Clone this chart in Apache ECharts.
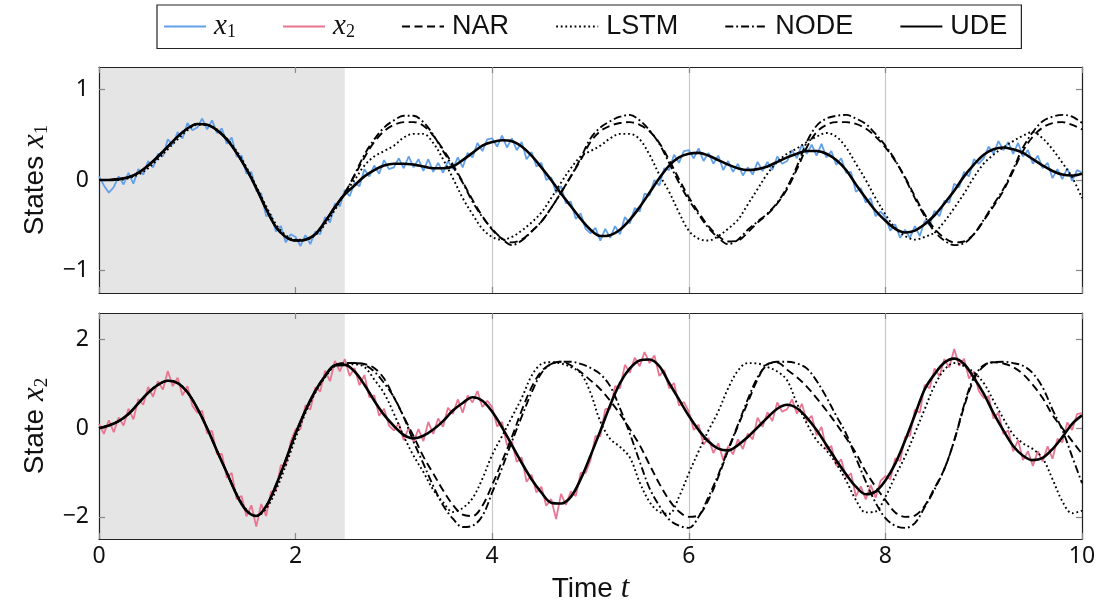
<!DOCTYPE html>
<html><head><meta charset="utf-8">
<script src="https://cdn.jsdelivr.net/npm/echarts/dist/echarts.min.js"></script>
<style>html,body{margin:0;padding:0;background:#fff}#c{width:1099px;height:610px}</style>
</head><body><div id="c"></div>
<script>
// ---------------- data ----------------
const xTickValues = [0, 2, 4, 6, 8, 10];
const y1TickValues = [-1, 0, 1];
const y2TickValues = [-2, 0, 2];
const trainingEnd = 2.5;
const legendNames = ['x1', 'x2', 'NAR', 'LSTM', 'NODE', 'UDE'];

// measurement time grid (step 0.05) and model time grid (step 0.1)
const tMeas = Array.from({length: 201}, (_, i) => +(i * 0.05).toFixed(2));
const tModel = Array.from({length: 101}, (_, i) => +(i * 0.1).toFixed(1));

// noisy measurements of x1 (t = 0 ... 10, step 0.05; one row per time unit)
const x1Meas = [
  0.04,-0.06,-0.14,-0.08,0.04,-0.05,0.08,-0.04,0.12,0.06,0.21,0.14,0.29,0.26,0.45,0.39,0.53,0.46,0.63,0.55,
  0.58,0.68,0.56,0.66,0.52,0.57,0.40,0.47,0.26,0.27,0.07,0.09,-0.12,-0.15,-0.40,-0.38,-0.57,-0.51,-0.69,-0.60,
  -0.63,-0.73,-0.61,-0.71,-0.57,-0.60,-0.41,-0.47,-0.26,-0.29,-0.11,-0.18,-0.03,-0.07,0.12,0.04,0.16,0.07,0.22,0.12,
  0.14,0.24,0.13,0.26,0.14,0.23,0.10,0.23,0.09,0.19,0.08,0.21,0.12,0.25,0.14,0.30,0.25,0.41,0.32,0.45,
  0.46,0.37,0.49,0.36,0.46,0.33,0.42,0.23,0.31,0.15,0.19,0.00,0.03,-0.14,-0.07,-0.26,-0.24,-0.43,-0.37,-0.54,
  -0.59,-0.53,-0.67,-0.54,-0.64,-0.51,-0.60,-0.41,-0.48,-0.31,-0.35,-0.15,-0.17,0.00,-0.06,0.13,0.11,0.28,0.19,0.32,
  0.33,0.24,0.35,0.21,0.30,0.18,0.27,0.11,0.21,0.09,0.18,0.05,0.14,0.06,0.20,0.10,0.20,0.11,0.26,0.18,
  0.21,0.33,0.24,0.39,0.29,0.39,0.27,0.40,0.25,0.32,0.17,0.24,0.08,0.09,-0.13,-0.09,-0.25,-0.20,-0.40,-0.35,
  -0.41,-0.56,-0.49,-0.64,-0.55,-0.64,-0.51,-0.62,-0.45,-0.50,-0.34,-0.40,-0.23,-0.25,-0.04,-0.08,0.09,0.04,0.23,0.18,
  0.24,0.37,0.29,0.43,0.33,0.42,0.29,0.41,0.26,0.33,0.18,0.27,0.13,0.19,0.02,0.12,0.01,0.13,-0.01,0.11,
  0.08
];

// noisy measurements of x2 (t = 0 ... 10, step 0.05; one row per time unit)
const x2Meas = [
  0.10,-0.13,0.18,-0.09,0.24,0.06,0.44,0.20,0.66,0.53,0.93,0.71,1.06,0.87,1.29,0.95,1.14,0.74,0.95,0.51,
  0.35,0.39,-0.12,-0.06,-0.59,-0.58,-1.12,-1.01,-1.60,-1.53,-1.99,-1.74,-2.22,-1.71,-1.98,-1.43,-1.41,-0.83,-0.86,-0.30,
  -0.02,-0.02,0.52,0.42,0.92,0.83,1.30,1.06,1.52,1.28,1.56,1.18,1.36,0.97,1.20,0.70,0.74,0.28,0.44,0.06,
  -0.05,0.11,-0.27,0.01,-0.31,-0.02,-0.29,0.14,-0.13,0.22,0.03,0.46,0.32,0.65,0.35,0.74,0.58,0.84,0.48,0.62,
  0.47,0.04,0.14,-0.38,-0.30,-0.76,-0.66,-1.21,-1.05,-1.45,-1.32,-1.75,-1.60,-2.05,-1.48,-1.73,-1.43,-1.53,-1.01,-1.01,
  -0.72,-0.18,-0.18,0.43,0.44,0.95,0.90,1.43,1.25,1.59,1.40,1.72,1.47,1.64,1.18,1.31,0.90,1.02,0.51,0.59,
  0.38,-0.04,0.08,-0.37,-0.22,-0.56,-0.34,-0.72,-0.40,-0.59,-0.25,-0.47,-0.12,-0.25,0.24,0.03,0.36,0.16,0.58,0.37,
  0.43,0.65,0.33,0.55,0.16,0.28,-0.16,0.03,-0.48,-0.40,-0.85,-0.70,-1.12,-1.02,-1.54,-1.31,-1.61,-1.28,-1.57,-1.19,
  -1.08,-1.15,-0.68,-0.74,-0.20,-0.17,0.42,0.35,0.98,0.90,1.35,1.17,1.56,1.37,1.79,1.41,1.57,1.12,1.28,0.84,
  0.68,0.72,0.22,0.35,-0.13,-0.05,-0.52,-0.27,-0.72,-0.52,-0.85,-0.52,-0.75,-0.41,-0.69,-0.24,-0.32,0.13,-0.04,0.32,
  0.34
];

// model predictions of x1 (t = 0 ... 10, step 0.1)
const udeX1 = [
  0.00,0.00,0.01,0.03,0.08,0.16,0.26,0.37,0.48,0.57,
  0.62,0.61,0.55,0.45,0.30,0.12,-0.09,-0.32,-0.52,-0.63,
  -0.67,-0.66,-0.60,-0.46,-0.30,-0.16,-0.06,0.04,0.11,0.16,
  0.18,0.18,0.17,0.15,0.13,0.13,0.15,0.22,0.30,0.38,
  0.42,0.44,0.43,0.37,0.27,0.14,0.00,-0.15,-0.29,-0.43,
  -0.55,-0.62,-0.61,-0.55,-0.44,-0.30,-0.14,0.02,0.16,0.25,
  0.29,0.30,0.27,0.22,0.17,0.13,0.11,0.12,0.15,0.20,
  0.25,0.29,0.32,0.32,0.29,0.22,0.11,-0.05,-0.20,-0.34,
  -0.45,-0.54,-0.58,-0.56,-0.49,-0.39,-0.26,-0.12,0.04,0.17,
  0.28,0.34,0.36,0.34,0.30,0.23,0.16,0.10,0.06,0.05,
  0.07
];
const narX1 = [
  0.00,0.00,0.01,0.03,0.08,0.16,0.26,0.37,0.48,0.57,
  0.62,0.61,0.55,0.45,0.30,0.12,-0.09,-0.32,-0.52,-0.63,
  -0.67,-0.66,-0.60,-0.46,-0.30,-0.14,0.05,0.25,0.42,0.54,
  0.61,0.64,0.64,0.60,0.49,0.34,0.17,-0.02,-0.22,-0.40,
  -0.55,-0.65,-0.69,-0.66,-0.57,-0.46,-0.31,-0.14,0.04,0.22,
  0.42,0.54,0.60,0.63,0.64,0.61,0.54,0.41,0.22,0.01,
  -0.19,-0.36,-0.51,-0.62,-0.68,-0.67,-0.58,-0.47,-0.38,-0.26,
  -0.10,0.12,0.36,0.53,0.61,0.64,0.64,0.62,0.57,0.48,
  0.36,0.21,0.03,-0.18,-0.38,-0.54,-0.64,-0.69,-0.68,-0.60,
  -0.45,-0.29,-0.12,0.10,0.32,0.48,0.58,0.63,0.64,0.61,
  0.56
];
const lstmX1 = [
  0.00,0.00,0.00,0.02,0.06,0.13,0.23,0.34,0.45,0.55,
  0.61,0.61,0.56,0.46,0.32,0.14,-0.07,-0.29,-0.49,-0.61,
  -0.66,-0.66,-0.61,-0.49,-0.33,-0.15,0.00,0.16,0.26,0.32,
  0.38,0.47,0.51,0.51,0.41,0.23,0.02,-0.20,-0.38,-0.54,
  -0.63,-0.66,-0.63,-0.56,-0.47,-0.36,-0.20,-0.03,0.13,0.26,
  0.32,0.38,0.46,0.51,0.51,0.45,0.28,0.06,-0.13,-0.36,
  -0.56,-0.65,-0.67,-0.62,-0.54,-0.44,-0.27,-0.10,0.07,0.20,
  0.29,0.35,0.42,0.48,0.52,0.48,0.36,0.18,0.00,-0.20,
  -0.38,-0.53,-0.62,-0.66,-0.63,-0.58,-0.46,-0.31,-0.15,0.03,
  0.18,0.28,0.36,0.43,0.49,0.53,0.46,0.34,0.19,0.03,
  -0.20
];
const nodeX1 = [
  0.00,0.00,0.01,0.03,0.08,0.16,0.26,0.37,0.48,0.57,
  0.62,0.61,0.55,0.45,0.30,0.12,-0.09,-0.32,-0.52,-0.63,
  -0.67,-0.66,-0.60,-0.46,-0.30,-0.15,0.06,0.28,0.45,0.58,
  0.66,0.71,0.71,0.64,0.50,0.32,0.15,-0.03,-0.24,-0.41,
  -0.54,-0.65,-0.72,-0.67,-0.57,-0.46,-0.31,-0.14,0.04,0.24,
  0.46,0.58,0.65,0.70,0.72,0.66,0.55,0.40,0.19,-0.03,
  -0.22,-0.38,-0.53,-0.64,-0.71,-0.66,-0.55,-0.46,-0.37,-0.25,
  -0.08,0.15,0.42,0.60,0.68,0.71,0.72,0.68,0.62,0.51,
  0.38,0.22,0.02,-0.20,-0.40,-0.57,-0.67,-0.72,-0.70,-0.60,
  -0.44,-0.27,-0.10,0.12,0.36,0.53,0.65,0.70,0.72,0.70,
  0.63
];

// model predictions of x2 (t = 0 ... 10, step 0.1)
const udeX2 = [
  0.00,0.06,0.16,0.32,0.56,0.80,0.98,1.07,1.02,0.81,
  0.45,0.00,-0.51,-1.00,-1.50,-1.86,-1.98,-1.76,-1.29,-0.72,
  -0.12,0.40,0.84,1.18,1.42,1.43,1.28,0.98,0.62,0.30,
  0.05,-0.15,-0.23,-0.17,-0.03,0.16,0.40,0.57,0.70,0.62,
  0.37,0.02,-0.38,-0.78,-1.15,-1.45,-1.68,-1.70,-1.55,-1.15,
  -0.62,-0.06,0.52,1.02,1.35,1.53,1.55,1.40,1.02,0.65,
  0.28,-0.04,-0.30,-0.46,-0.50,-0.38,-0.20,0.02,0.24,0.44,
  0.53,0.45,0.24,-0.04,-0.38,-0.72,-1.04,-1.32,-1.49,-1.43,
  -1.18,-0.80,-0.28,0.30,0.88,1.22,1.48,1.57,1.45,1.14,
  0.78,0.34,-0.05,-0.40,-0.62,-0.72,-0.67,-0.47,-0.20,0.10,
  0.29
];
const narX2 = [
  0.00,0.06,0.16,0.32,0.56,0.80,0.98,1.07,1.02,0.81,
  0.45,0.00,-0.51,-1.00,-1.50,-1.86,-1.98,-1.76,-1.29,-0.72,
  -0.12,0.40,0.84,1.18,1.42,1.47,1.47,1.45,1.36,1.12,
  0.70,0.26,-0.18,-0.64,-1.02,-1.40,-1.73,-1.95,-1.98,-1.75,
  -1.28,-0.75,-0.20,0.40,0.92,1.28,1.45,1.50,1.42,1.27,
  1.08,0.88,0.62,0.32,-0.02,-0.38,-0.82,-1.25,-1.62,-1.88,
  -2.00,-1.96,-1.62,-1.10,-0.50,0.05,0.58,1.10,1.45,1.48,
  1.32,1.15,0.94,0.68,0.40,0.10,-0.22,-0.56,-0.98,-1.32,
  -1.62,-1.90,-2.00,-1.97,-1.75,-1.35,-0.92,-0.28,0.48,1.10,
  1.40,1.49,1.46,1.38,1.22,0.98,0.68,0.30,0.00,-0.29,
  -0.58
];
const lstmX2 = [
  0.00,0.06,0.16,0.32,0.56,0.80,0.98,1.07,1.02,0.81,
  0.45,0.00,-0.51,-1.00,-1.48,-1.84,-1.98,-1.82,-1.40,-0.84,
  -0.22,0.34,0.80,1.15,1.40,1.44,1.44,1.38,1.10,0.79,
  0.33,-0.18,-0.62,-0.99,-1.39,-1.67,-1.89,-1.80,-1.58,-1.14,
  -0.60,-0.18,0.25,0.68,1.18,1.45,1.49,1.46,1.38,1.24,
  0.80,0.15,-0.24,-0.42,-0.66,-1.22,-1.66,-1.89,-1.93,-1.55,
  -1.02,-0.52,-0.05,0.38,0.90,1.30,1.47,1.46,1.38,1.28,
  1.08,0.56,0.11,-0.27,-0.50,-0.80,-1.18,-1.62,-1.90,-1.88,
  -1.55,-1.08,-0.64,-0.11,0.43,0.96,1.32,1.47,1.40,1.26,
  1.02,0.62,0.22,-0.14,-0.34,-0.47,-0.68,-1.15,-1.65,-1.92,
  -1.86
];
const nodeX2 = [
  0.00,0.06,0.16,0.32,0.56,0.80,0.98,1.07,1.02,0.81,
  0.45,0.00,-0.51,-1.00,-1.50,-1.86,-1.98,-1.76,-1.29,-0.72,
  -0.12,0.40,0.84,1.18,1.42,1.47,1.47,1.43,1.28,1.02,
  0.70,0.25,-0.30,-0.80,-1.30,-1.74,-2.04,-2.23,-2.20,-1.98,
  -1.45,-0.90,-0.30,0.26,0.80,1.24,1.45,1.50,1.50,1.45,
  1.36,1.22,0.95,0.45,-0.12,-0.75,-1.35,-1.75,-2.06,-2.20,
  -2.25,-2.00,-1.55,-1.05,-0.48,0.08,0.65,1.15,1.43,1.50,
  1.50,1.46,1.35,1.07,0.70,0.28,-0.12,-0.67,-1.20,-1.68,
  -2.03,-2.20,-2.25,-2.14,-1.78,-1.38,-0.92,-0.28,0.52,1.15,
  1.42,1.49,1.50,1.47,1.41,1.24,0.92,0.42,-0.04,-0.64,
  -1.24
];

// ---------------- chart ----------------
const BLUE = '#62a0ea', PINK = '#ea7590', GRAY_SHADE = '#e5e5e5';
const SANS = 'Liberation Sans', MATH = 'Liberation Serif', TICKFONT = 'Noto Sans';
const pairs = (t, v) => v.map((y, i) => [t[i], y]);
const minus = v => (v < 0 ? '\u2212' + Math.abs(v) : String(v));

const nameRich = {
  a: {fontFamily: SANS, fontSize: 28, lineHeight: 34, verticalAlign: 'middle', color: '#111'},
  m: {fontFamily: MATH, fontStyle: 'italic', fontSize: 31, lineHeight: 34, verticalAlign: 'middle', color: '#111'},
  s: {fontFamily: MATH, fontSize: 19, lineHeight: 20, verticalAlign: 'bottom', color: '#111'}
};
const legendRich = {
  a: {fontFamily: SANS, fontSize: 27, lineHeight: 30, verticalAlign: 'middle', color: '#111'},
  m: {fontFamily: MATH, fontStyle: 'italic', fontSize: 29, lineHeight: 30, verticalAlign: 'middle', color: '#111'},
  s: {fontFamily: MATH, fontSize: 18, lineHeight: 18, verticalAlign: 'bottom', color: '#111'}
};

const GRID_L = 99, GRID_W = 983;
const grids = [
  {left: GRID_L, top: 67, width: GRID_W, height: 226},
  {left: GRID_L, top: 313, width: GRID_W, height: 226}
];

function xAxes(gi, withLabels) {
  return [
    {
      gridIndex: gi, type: 'value', min: 0, max: 10, interval: 2, z: 1,
      axisLine: {show: true, onZero: false, lineStyle: {color: '#222', width: 1.2}},
      axisTick: {show: true, inside: true, length: 6, lineStyle: {color: '#888', width: 1.2}},
      splitLine: {show: true, lineStyle: {color: '#c8c8c8', width: 1.2}},
      axisLabel: withLabels ? {show: true, margin: 6, fontFamily: TICKFONT, fontSize: 23, color: '#111',
        formatter: v => minus(v)} : {show: false},
      name: withLabels ? '{a|Time }{m|t}' : '',
      nameLocation: 'middle', nameGap: 33,
      nameTextStyle: {rich: nameRich}
    },
    {
      gridIndex: gi, type: 'value', min: 0, max: 10, interval: 2, position: 'top', z: 1,
      axisLine: {show: true, onZero: false, lineStyle: {color: '#222', width: 1.2}},
      axisTick: {show: true, inside: true, length: 6, lineStyle: {color: '#888', width: 1.2}},
      splitLine: {show: false}, axisLabel: {show: false}
    }
  ];
}
function yAxes(gi, min, max, ticks, nameText) {
  return [
    {
      gridIndex: gi, type: 'value', min: min, max: max, z: 1,
      axisLine: {show: true, onZero: false, lineStyle: {color: '#222', width: 1.2}},
      axisTick: {show: true, inside: true, length: 6, customValues: ticks, lineStyle: {color: '#888', width: 1.2}},
      axisLabel: {show: true, customValues: ticks, margin: 10, fontFamily: TICKFONT, fontSize: 23, color: '#111',
        formatter: v => minus(v)},
      splitLine: {show: false},
      name: nameText, nameLocation: 'middle', nameGap: 46, nameRotate: 90,
      nameTextStyle: {rich: nameRich}
    },
    {
      gridIndex: gi, type: 'value', min: min, max: max, position: 'right', z: 1,
      axisLine: {show: true, onZero: false, lineStyle: {color: '#222', width: 1.2}},
      axisTick: {show: true, inside: true, length: 6, customValues: ticks, lineStyle: {color: '#888', width: 1.2}},
      axisLabel: {show: false}, splitLine: {show: false}
    }
  ];
}

const modelStyle = {
  NAR:  {type: [8, 4.5], width: 1.9},
  LSTM: {type: [1.8, 2.8], width: 1.9},
  NODE: {type: [8, 3, 1.8, 3], width: 1.9},
  UDE:  {type: 'solid', width: 2.6}
};
function lineSeries(name, xi, yi, data, color, style, z, smooth) {
  return {
    name: name, type: 'line', xAxisIndex: xi, yAxisIndex: yi, data: data,
    showSymbol: false, symbol: 'none', silent: true, z: z, smooth: smooth,
    lineStyle: Object.assign({color: color}, style),
    itemStyle: {color: color}
  };
}
function shadeSeries(xi, yi) {
  return {
    type: 'line', xAxisIndex: xi, yAxisIndex: yi, data: [], z: 0, silent: true,
    markArea: {silent: true, itemStyle: {color: GRAY_SHADE}, data: [[{xAxis: 0}, {xAxis: trainingEnd}]]}
  };
}

const series = [
  shadeSeries(0, 0), shadeSeries(2, 2),
  lineSeries('x1', 0, 0, pairs(tMeas, x1Meas), BLUE, {width: 1.8}, 2, false),
  lineSeries('x2', 2, 2, pairs(tMeas, x2Meas), PINK, {width: 1.8}, 2, false),
  lineSeries('NAR', 0, 0, pairs(tModel, narX1), '#000', modelStyle.NAR, 3, 0.35),
  lineSeries('NAR', 2, 2, pairs(tModel, narX2), '#000', modelStyle.NAR, 3, 0.35),
  lineSeries('LSTM', 0, 0, pairs(tModel, lstmX1), '#000', modelStyle.LSTM, 3, 0.35),
  lineSeries('LSTM', 2, 2, pairs(tModel, lstmX2), '#000', modelStyle.LSTM, 3, 0.35),
  lineSeries('NODE', 0, 0, pairs(tModel, nodeX1), '#000', modelStyle.NODE, 3, 0.35),
  lineSeries('NODE', 2, 2, pairs(tModel, nodeX2), '#000', modelStyle.NODE, 3, 0.35),
  lineSeries('UDE', 0, 0, pairs(tModel, udeX1), '#000', modelStyle.UDE, 4, 0.35),
  lineSeries('UDE', 2, 2, pairs(tModel, udeX2), '#000', modelStyle.UDE, 4, 0.35)
];

const chart = echarts.init(document.getElementById('c'), null, {renderer: 'canvas'});
chart.setOption({
  animation: false,
  backgroundColor: '#fff',
  legend: {
    data: legendNames,
    left: 157, top: 5,
    padding: [7, 14, 7, 6],
    itemGap: 46, itemWidth: 42, itemHeight: 14,
    borderColor: '#222', borderWidth: 1.2, borderRadius: 0,
    itemStyle: {opacity: 0, borderWidth: 0},
    lineStyle: {width: 2.2, opacity: 1},
    formatter: n => n === 'x1' ? '{m|x}{s|1}' : n === 'x2' ? '{m|x}{s|2}' : '{a|' + n + '}',
    textStyle: {rich: legendRich, padding: [0, 0, 0, 3]}
  },
  grid: grids,
  xAxis: [...xAxes(0, false), ...xAxes(1, true)],
  yAxis: [
    ...yAxes(0, -1.25, 1.25, y1TickValues, '{a|States }{m|x}{s|1}'),
    ...yAxes(1, -2.5, 2.6, y2TickValues, '{a|State }{m|x}{s|2}')
  ],
  series: series
});
</script></body></html>
